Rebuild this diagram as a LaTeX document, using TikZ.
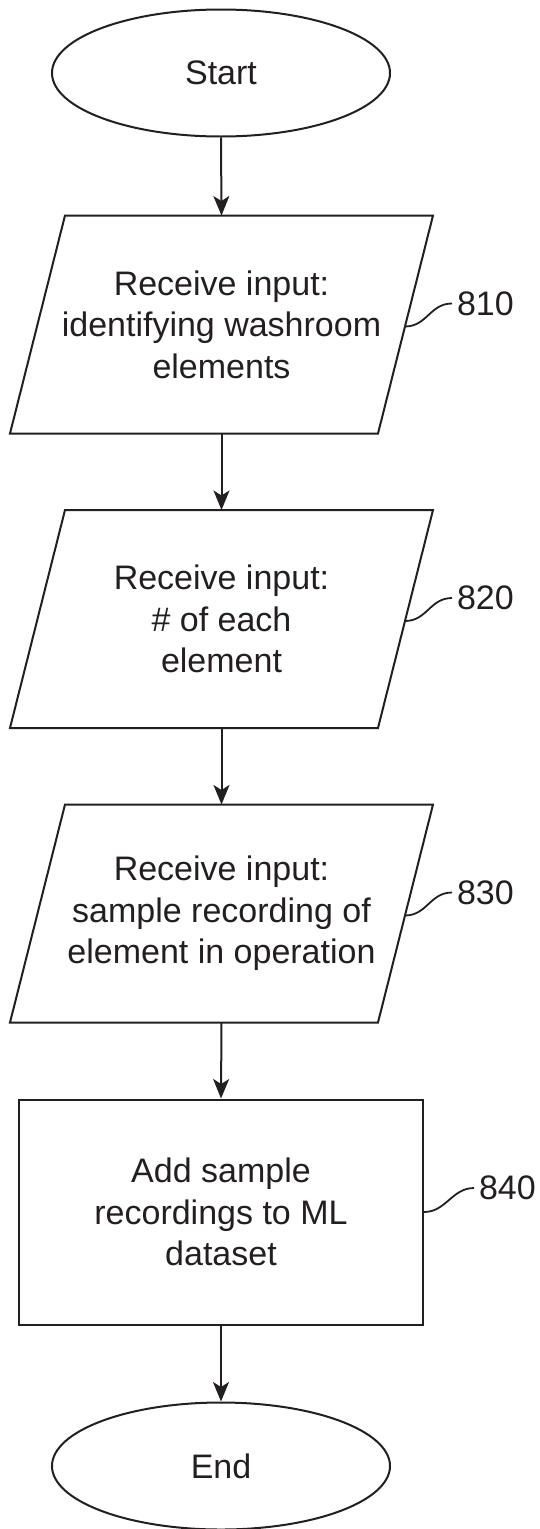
\documentclass[tikz,border=0pt]{standalone}
\usepackage{fontspec}
\setmainfont{Liberation Sans}
\usetikzlibrary{shapes.geometric,arrows.meta,calc}
\definecolor{ink}{HTML}{231F20}
\begin{document}
\begin{tikzpicture}[x=1pt,y=-1pt,
  line width=2pt, draw=ink,
  txt/.style={font=\fontsize{34}{41.5}\selectfont, text=ink, align=center},
  term/.style={txt, ellipse, draw=ink, line width=2pt, minimum width=338pt, minimum height=127pt, inner sep=0pt},
  iobox/.style={txt, rectangle, minimum width=421pt, minimum height=216pt, inner sep=0pt},
  procbox/.style={txt, rectangle, draw=ink, line width=2pt, minimum width=404pt, minimum height=225pt, inner sep=0pt},
  lab/.style={font=\fontsize{34}{41.5}\selectfont, text=ink, inner sep=4pt, anchor=west},
  arr/.style={draw=ink, line width=2pt, -{Stealth[length=19.5pt,width=16pt,inset=5pt]}},
  leader/.style={draw=ink, line width=1.8pt}
]
\useasboundingbox (0,0) rectangle (539,1529);

% terminals
\node[term] (start) at (221,73) {Start};
\node[term] (end) at (221,1466) {End};

% input boxes (parallelograms)
\node[iobox] (p1) at (221.5,324.5) {Receive input:\\identifying washroom\\elements};
\node[iobox] (p2) at (221.5,619) {Receive input:\\\# of each\\element};
\node[iobox] (p3) at (221.5,913.5) {Receive input:\\sample recording of\\element in operation};
\foreach \p in {p1,p2,p3}{
  \draw[line width=2pt, draw=ink, line join=miter]
    ([xshift=55pt]\p.north west) -- (\p.north east) --
    ([xshift=-55pt]\p.south east) -- (\p.south west) -- cycle;
}

% process box
\node[procbox] (b4) at (221,1212) {Add sample\\recordings to ML\\dataset};

% connectors
\draw[arr] (start.south) -- (p1.north);
\draw[arr] (p1.south) -- (p2.north);
\draw[arr] (p2.south) -- (p3.north);
\draw[arr] (p3.south) -- (b4.north);
\draw[arr] (b4.south) -- (end.north);

% reference labels with leaders
\foreach \p/\n in {p1/810,p2/820,p3/830}{
  \coordinate (\p r) at ([xshift=-28pt,yshift=-2pt]\p.east);
  \node[lab] (l\n) at ([xshift=47pt,yshift=23pt]\p r) {\n};
  \draw[leader] (\p r) .. controls +(22,0) and +(-22,0) .. (l\n.west);
}
\coordinate (b4r) at (b4.east);
\node[lab] (l840) at ([xshift=50pt,yshift=24pt]b4r) {840};
\draw[leader] (b4r) .. controls +(22,0) and +(-22,0) .. (l840.west);
\end{tikzpicture}
\end{document}
